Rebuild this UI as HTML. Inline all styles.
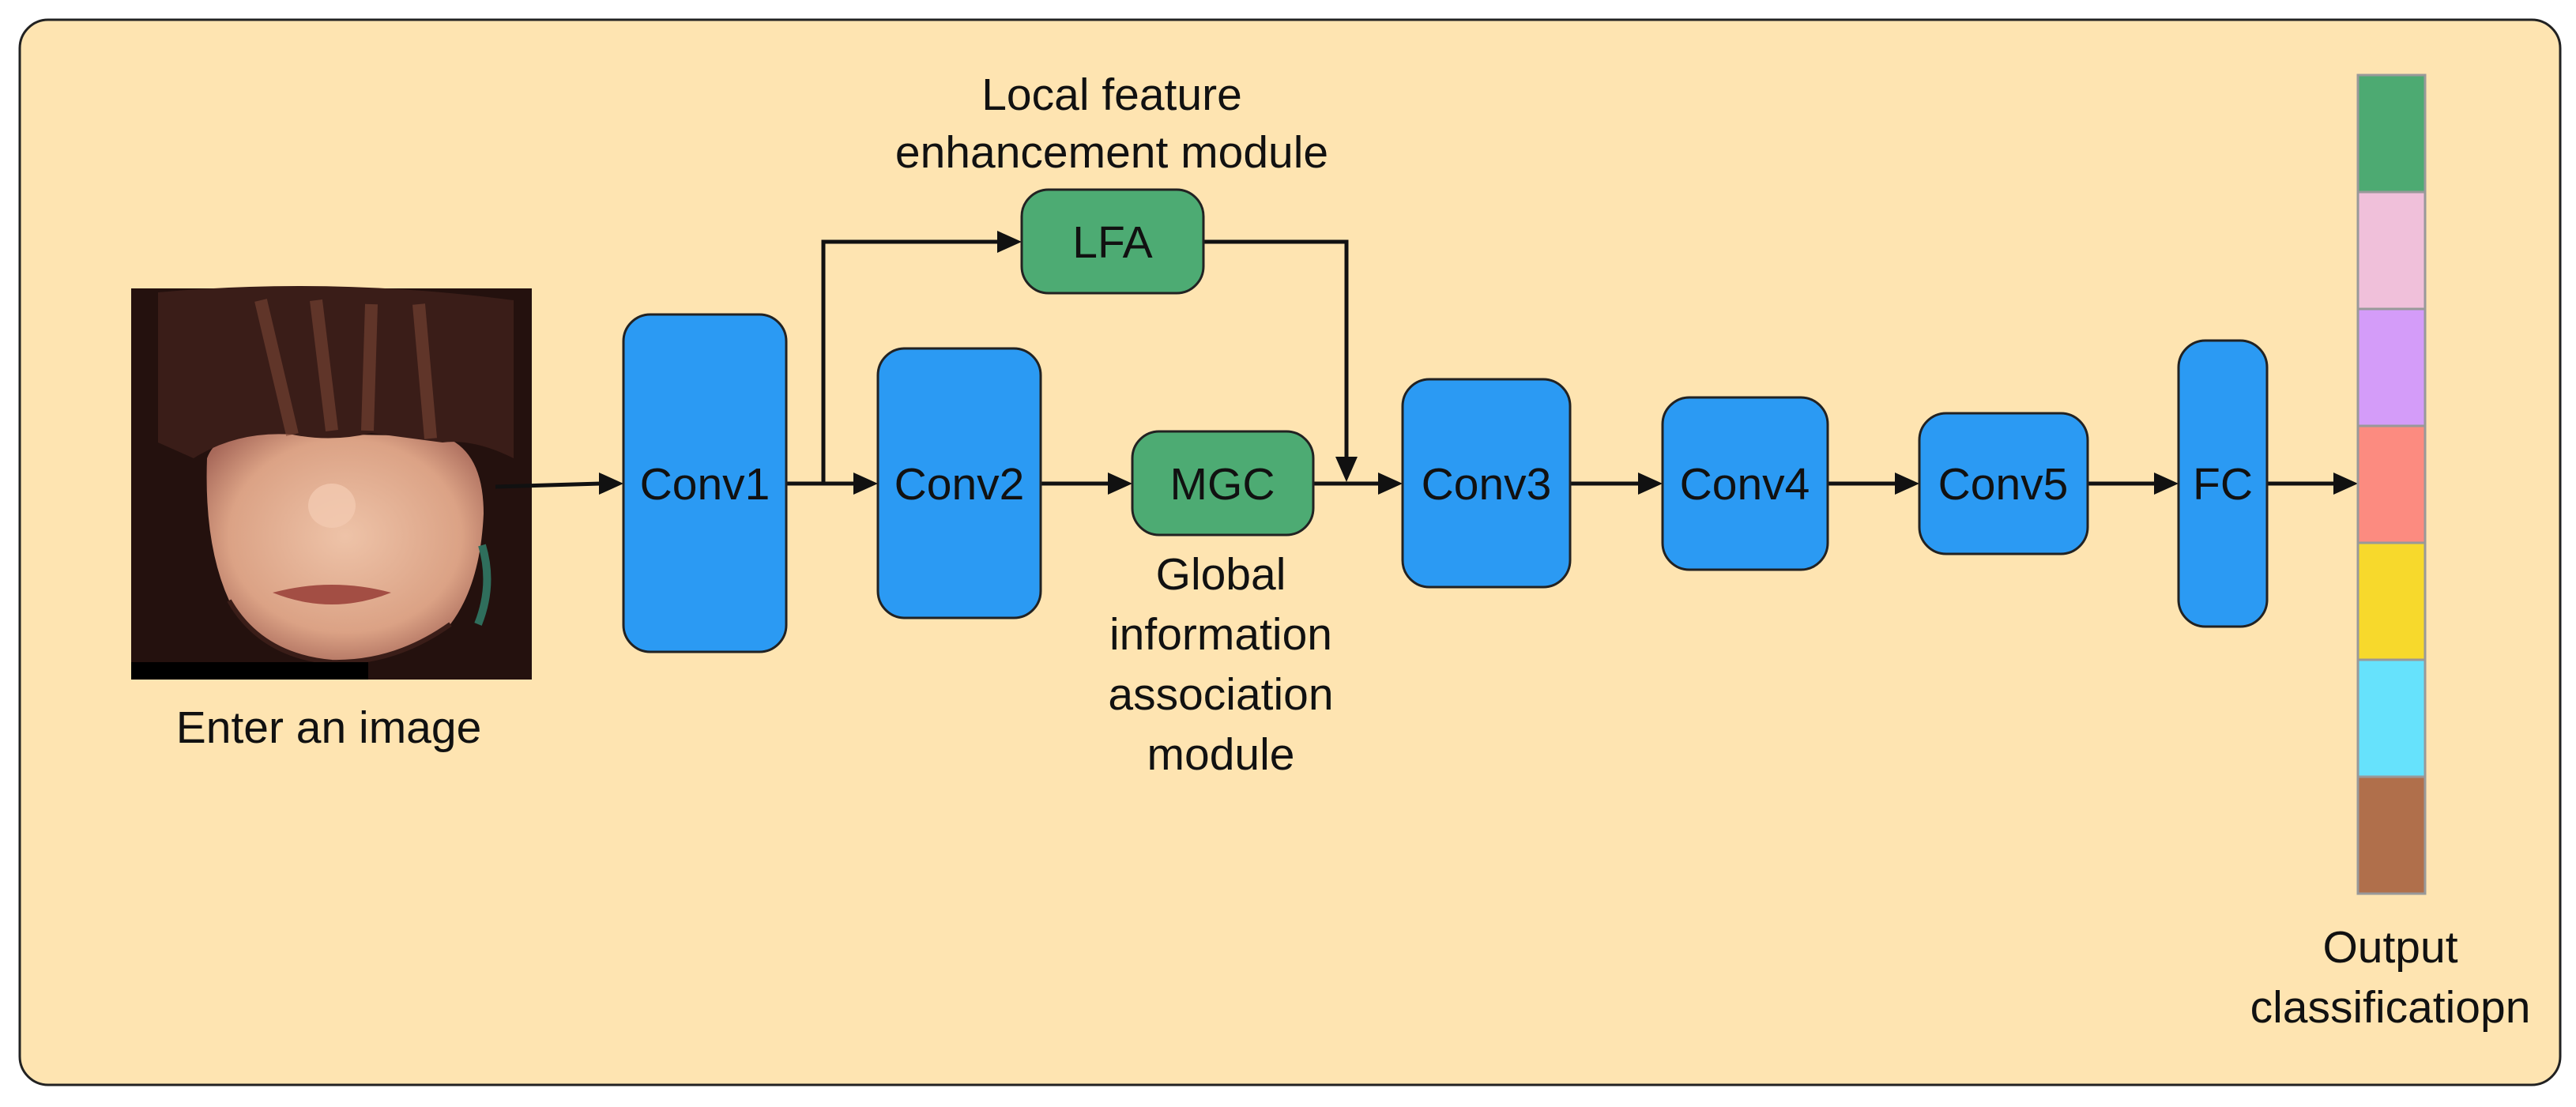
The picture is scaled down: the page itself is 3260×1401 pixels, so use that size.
<!DOCTYPE html>
<html><head><meta charset="utf-8"><style>
html,body{margin:0;padding:0;background:#fff;}
svg{display:block;}
text{font-family:"Liberation Sans","DejaVu Sans",sans-serif;fill:#111;}
</style></head><body>
<svg width="3260" height="1401" viewBox="0 0 3260 1401" xmlns="http://www.w3.org/2000/svg">
<defs>
<radialGradient id="skin" cx="0.5" cy="0.45" r="0.6">
<stop offset="0" stop-color="#eec3a8"/><stop offset="0.7" stop-color="#dba285"/><stop offset="1" stop-color="#a8695a"/>
</radialGradient>
</defs>
<rect x="25" y="25" width="3215" height="1348" rx="36" fill="#fee4b1" stroke="#222" stroke-width="3"/>

<g>
<rect x="166" y="365" width="507" height="495" fill="#24110e"/>
<path d="M262 580 Q275 545 330 548 L560 552 Q612 570 612 650 Q608 740 570 790 Q500 840 420 838 Q330 828 290 760 Q258 690 262 580 Z" fill="url(#skin)"/>
<path d="M200 370 Q420 350 650 380 L650 580 Q600 555 560 560 L470 548 Q420 560 370 550 Q300 545 245 580 L200 560 Z" fill="#3a1d18"/>
<path d="M330 380 L370 550 M400 380 L420 545 M470 385 L465 545 M530 385 L545 555" stroke="#7a4535" stroke-width="16" opacity="0.6"/>
<path d="M345 750 Q420 730 495 750 Q420 780 345 750 Z" fill="#a34e44"/>
<ellipse cx="420" cy="640" rx="30" ry="28" fill="#f2c9b0" opacity="0.8"/>
<path d="M290 760 Q330 830 420 838 Q500 840 570 790" stroke="#3a1d18" stroke-width="6" fill="none"/>
<rect x="166" y="838" width="300" height="22" fill="#000"/>
<path d="M610 690 Q625 740 605 790" stroke="#2f6e5c" stroke-width="10" fill="none"/>
</g>
<text x="416" y="940" font-size="57" text-anchor="middle">Enter an image</text>

<g stroke="#111" stroke-width="5" fill="none">
<line x1="627" y1="616" x2="760" y2="612"/>
<line x1="995" y1="612" x2="1085" y2="612"/>
<polyline points="1042,612 1042,306 1265,306"/>
<line x1="1317" y1="612" x2="1405" y2="612"/>
<polyline points="1523,306 1704,306 1704,580"/>
<line x1="1662" y1="612" x2="1748" y2="612"/>
<line x1="1987" y1="612" x2="2077" y2="612"/>
<line x1="2313" y1="612" x2="2402" y2="612"/>
<line x1="2642" y1="612" x2="2730" y2="612"/>
<line x1="2869" y1="612" x2="2956" y2="612"/>
</g>
<g fill="#111">
<polygon points="789,612 758,598 758,626"/>
<polygon points="1111,612 1080,598 1080,626"/>
<polygon points="1293,306 1262,292 1262,320"/>
<polygon points="1433,612 1402,598 1402,626"/>
<polygon points="1704,610 1690,578 1718,578"/>
<polygon points="1775,612 1744,598 1744,626"/>
<polygon points="2104,612 2073,598 2073,626"/>
<polygon points="2429,612 2398,598 2398,626"/>
<polygon points="2757,612 2726,598 2726,626"/>
<polygon points="2984,612 2953,598 2953,626"/>
</g>

<g stroke="#222" stroke-width="3">
<rect x="789" y="398" width="206" height="427" rx="34" fill="#2b9af3"/>
<rect x="1111" y="441" width="206" height="341" rx="34" fill="#2b9af3"/>
<rect x="1433" y="546" width="229" height="131" rx="34" fill="#4dab73"/>
<rect x="1293" y="240" width="230" height="131" rx="34" fill="#4dab73"/>
<rect x="1775" y="480" width="212" height="263" rx="34" fill="#2b9af3"/>
<rect x="2104" y="503" width="209" height="218" rx="34" fill="#2b9af3"/>
<rect x="2429" y="523" width="213" height="178" rx="34" fill="#2b9af3"/>
<rect x="2757" y="431" width="112" height="362" rx="34" fill="#2b9af3"/>
</g>
<g font-size="57" text-anchor="middle">
<text x="892" y="632">Conv1</text>
<text x="1214" y="632">Conv2</text>
<text x="1547" y="632">MGC</text>
<text x="1408" y="326">LFA</text>
<text x="1881" y="632">Conv3</text>
<text x="2208" y="632">Conv4</text>
<text x="2535" y="632">Conv5</text>
<text x="2813" y="632">FC</text>
<text x="1407" y="139">Local feature</text>
<text x="1407" y="212">enhancement module</text>
<text x="1545" y="746">Global</text>
<text x="1545" y="822">information</text>
<text x="1545" y="898">association</text>
<text x="1545" y="974">module</text>
<text x="3025" y="1218">Output</text>
<text x="3025" y="1294">classificatiopn</text>
</g>

<g stroke="#999" stroke-width="3">
<rect x="2984" y="95" width="85" height="148" fill="#4daa72"/>
<rect x="2984" y="243" width="85" height="148" fill="#f0c0da"/>
<rect x="2984" y="391" width="85" height="148" fill="#d49cf9"/>
<rect x="2984" y="539" width="85" height="148" fill="#fc8b80"/>
<rect x="2984" y="687" width="85" height="148" fill="#f7d92c"/>
<rect x="2984" y="835" width="85" height="148" fill="#66e2fc"/>
<rect x="2984" y="983" width="85" height="148" fill="#b06f4b"/>
</g>
</svg>
</body></html>
